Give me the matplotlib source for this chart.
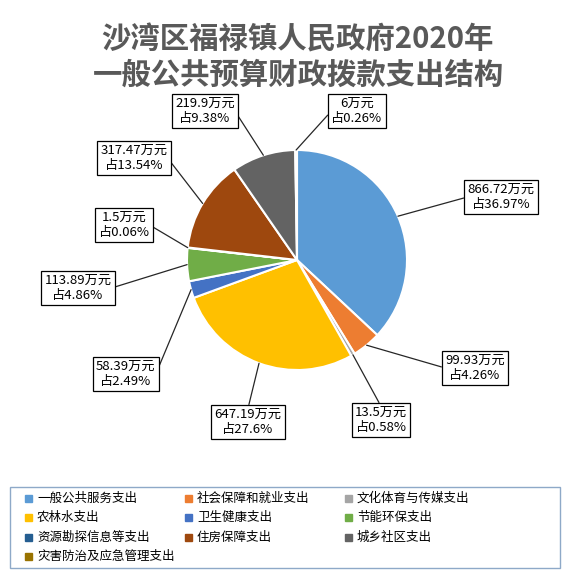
import numpy as np
import matplotlib
matplotlib.use("Agg")
import matplotlib.pyplot as plt

plt.rcParams['font.family'] = ['Noto Sans CJK SC', 'DejaVu Sans']

categories = ["一般公共服务支出", "社会保障和就业支出", "文化体育与传媒支出",
              "农林水支出", "卫生健康支出", "节能环保支出",
              "资源勘探信息等支出", "住房保障支出", "城乡社区支出",
              "灾害防治及应急管理支出"]
amounts = [866.72, 99.93, 13.5, 647.19, 58.39, 113.89, 1.5, 317.47, 219.9, 6]
amount_text = ["866.72", "99.93", "13.5", "647.19", "58.39", "113.89", "1.5", "317.47", "219.9", "6"]
percents = ["36.97%", "4.26%", "0.58%", "27.6%", "2.49%", "4.86%", "0.06%", "13.54%", "9.38%", "0.26%"]
colors = ["#5B9BD5", "#ED7D31", "#A5A5A5", "#FFC000", "#4472C4", "#70AD47",
          "#255E91", "#9E480E", "#636363", "#997300"]

W, H = 574, 575
fig = plt.figure(figsize=(W / 100, H / 100), dpi=100)
ax = fig.add_axes([0, 0, 1, 1])

def py(y):
    return H - y

cx, cy, r = 297, py(260), 110
wedges, _ = ax.pie(amounts, colors=colors, startangle=90, counterclock=False,
                   center=(cx, cy), radius=r, frame=True,
                   wedgeprops=dict(edgecolor="white", linewidth=1.5))
ax.set_xlim(0, W)
ax.set_ylim(0, H)
ax.set_aspect("equal")
ax.axis("off")

# label box centers (pixels) and where the leader meets the box
label_pos = [(501, 197), (475, 368), (381, 420), (248, 422), (126, 374),
             (78, 288), (124, 225), (134, 158), (205, 111), (357, 111)]
relpos = [(0, 0.5), (0, 0.5), (0.5, 1), (0.5, 1), (1, 0.5),
          (1, 0.5), (1, 0.5), (1, 0.5), (1, 0.5), (0, 0.5)]

for w, a, p, pos, rp in zip(wedges, amount_text, percents, label_pos, relpos):
    ang = np.deg2rad((w.theta1 + w.theta2) / 2)
    x0 = cx + r * np.cos(ang)
    y0 = cy + r * np.sin(ang)
    ax.annotate(f"{a}万元\n占{p}", xy=(x0, y0), xytext=(pos[0], py(pos[1])),
                ha="center", va="center", fontsize=9.5, color="#000000",
                linespacing=1.15,
                bbox=dict(boxstyle="square,pad=0.25", fc="white", ec="black", lw=0.9),
                arrowprops=dict(arrowstyle="-", color="#262626", lw=0.9,
                                relpos=rp, shrinkA=0, shrinkB=0))

ax.text(W / 2 + 10, py(40), "沙湾区福禄镇人民政府2020年", ha="center", va="center",
        fontsize=21.2, fontweight="bold", color="#595959")
ax.text(W / 2 + 12, py(75), "一般公共预算财政拨款支出结构", ha="center", va="center",
        fontsize=21.2, fontweight="bold", color="#595959")

# legend
ax.add_patch(plt.Rectangle((10, py(568)), 550, 81, fill=False, ec="#8EA9C8", lw=1))
col_x = [28, 188, 348]
row_y = [498, 517, 537, 556]
for i, (name, c) in enumerate(zip(categories, colors)):
    x = col_x[i % 3]
    y = py(row_y[i // 3])
    ax.add_patch(plt.Rectangle((x - 3.5, y - 3.5), 7, 7, color=c))
    ax.text(x + 9, y, name, ha="left", va="center", fontsize=9, color="#000000")

fig.savefig("out.png", dpi=100)
